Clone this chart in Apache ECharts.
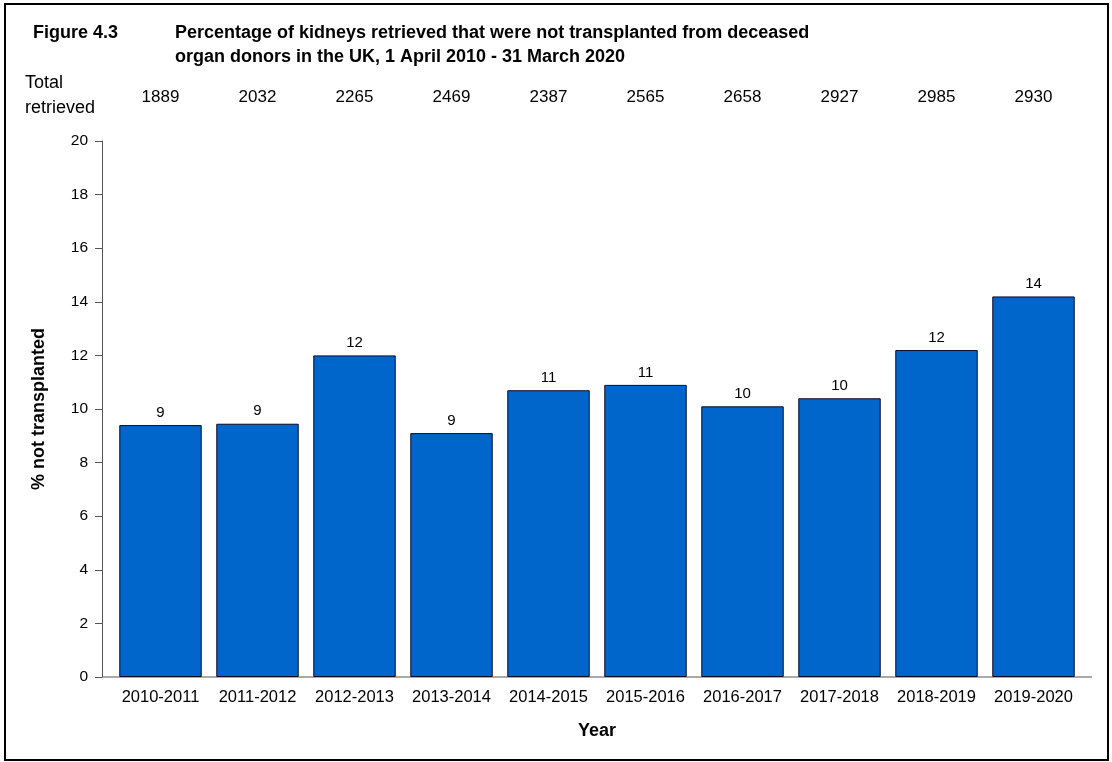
<!DOCTYPE html>
<html>
<head>
<meta charset="utf-8">
<script src="https://cdn.jsdelivr.net/npm/echarts@6/dist/echarts.min.js"></script>
<style>
html,body{margin:0;padding:0;background:#fff;}
#chart{width:1112px;height:762px;}
</style>
</head>
<body>
<div id="chart"></div>
<script>
const years = ['2010-2011','2011-2012','2012-2013','2013-2014','2014-2015','2015-2016','2016-2017','2017-2018','2018-2019','2019-2020'];
const pctNotTransplanted = [9.4, 9.45, 12.0, 9.1, 10.7, 10.9, 10.1, 10.4, 12.2, 14.2];
const totalRetrieved = [1889, 2032, 2265, 2469, 2387, 2565, 2658, 2927, 2985, 2930];
const yTicks = {min: 0, max: 20, interval: 2};

const FONT = '"Liberation Sans", Arial, sans-serif';
const chart = echarts.init(document.getElementById('chart'), null, {renderer: 'canvas'});

const option = {
  backgroundColor: '#fff',
  animation: false,
  textStyle: {fontFamily: FONT},
  title: [
    {text: 'Figure 4.3', left: 33, top: 21, padding: 0,
     textStyle: {fontFamily: FONT, fontSize: 18, fontWeight: 'bold', color: '#000', lineHeight: 24}},
    {text: 'Percentage of kidneys retrieved that were not transplanted from deceased\norgan donors in the UK, 1 April 2010 - 31 March 2020', left: 175, top: 21, padding: 0,
     textStyle: {fontFamily: FONT, fontSize: 18, fontWeight: 'bold', color: '#000', lineHeight: 24}}
  ],
  grid: {left: 112, right: 30, top: 141, bottom: 85, containLabel: false},
  xAxis: [
    {
      type: 'category', data: years, position: 'bottom',
      name: 'Year', nameLocation: 'middle', nameGap: 45,
      nameTextStyle: {fontFamily: FONT, fontSize: 18, fontWeight: 'bold', color: '#000'},
      axisLine: {show: false},
      axisTick: {show: false},
      axisLabel: {fontFamily: FONT, fontSize: 16.5, color: '#000', margin: 12, interval: 0}
    },
    {
      type: 'category', data: totalRetrieved, position: 'top',
      axisLine: {show: false}, axisTick: {show: false},
      axisLabel: {fontFamily: FONT, fontSize: 17, color: '#000', margin: 35, interval: 0}
    }
  ],
  yAxis: {
    type: 'value', min: yTicks.min, max: yTicks.max, interval: yTicks.interval,
    offset: 10,
    name: '% not transplanted', nameLocation: 'middle', nameGap: 54, nameRotate: 90,
    nameTextStyle: {fontFamily: FONT, fontSize: 18, fontWeight: 'bold', color: '#000'},
    axisLine: {show: true, lineStyle: {color: '#555', width: 1}},
    axisTick: {show: true, length: 7, lineStyle: {color: '#555'}},
    axisLabel: {fontFamily: FONT, fontSize: 15.5, color: '#000', margin: 14},
    splitLine: {show: false}
  },
  series: [{
    type: 'bar', data: pctNotTransplanted, xAxisIndex: 0,
    barCategoryGap: '15%',
    itemStyle: {color: '#0066CC', borderColor: '#0a0a2a', borderWidth: 1},
    label: {show: true, position: 'top', distance: 5, fontFamily: FONT, fontSize: 15, color: '#000',
            formatter: p => Math.round(p.value)}
  }]
};
chart.setOption(option);

const y0 = chart.convertToPixel({yAxisIndex: 0}, 0);
chart.setOption({
  graphic: [
    {type: 'rect', shape: {x: 5, y: 4, width: 1103, height: 756}, style: {fill: null, stroke: '#000', lineWidth: 2}, silent: true},
    {type: 'line', shape: {x1: 102, y1: y0, x2: 1092, y2: y0}, style: {stroke: '#555', lineWidth: 1}, silent: true},
    {type: 'text', left: 25, top: 71, style: {text: 'Total\nretrieved', fontFamily: FONT, fontSize: 18, fill: '#000', lineHeight: 25}}
  ]
});
</script>
</body>
</html>
